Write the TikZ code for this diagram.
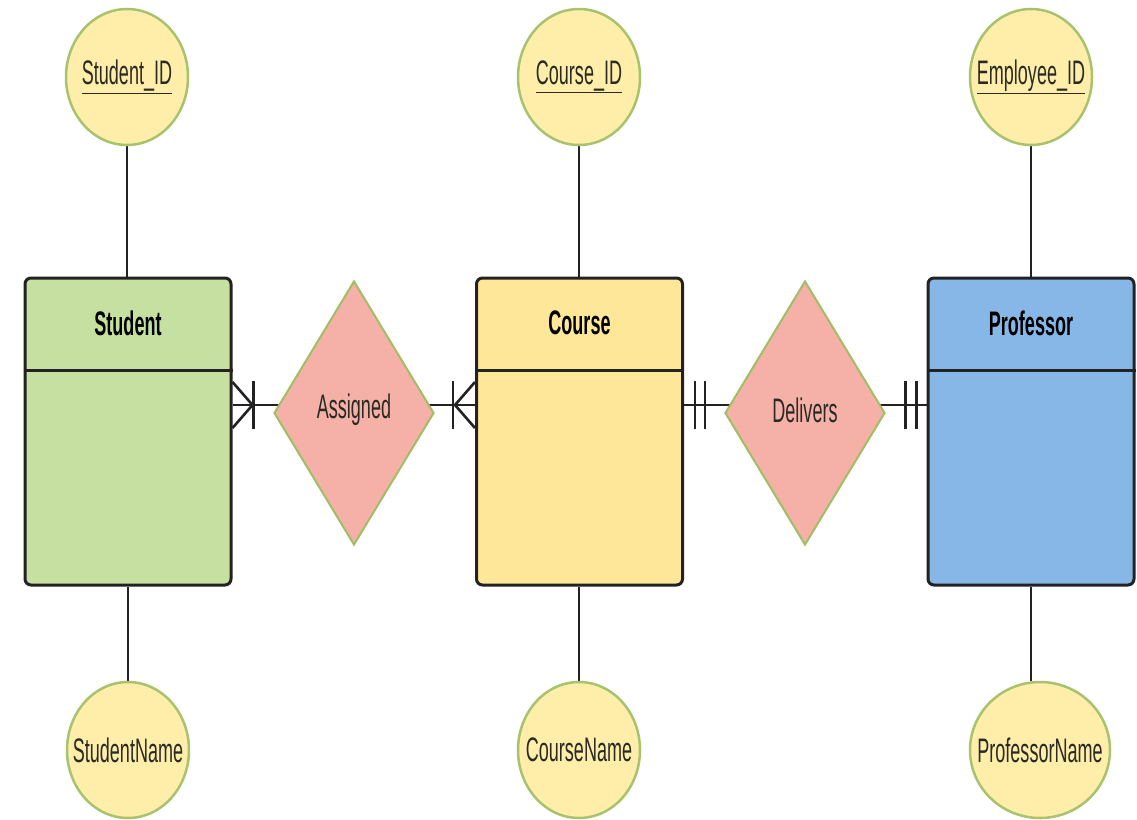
\documentclass[tikz,border=0pt]{standalone}
\usepackage{fontspec}
\setmainfont{Liberation Sans}[FakeStretch=0.53]
\usetikzlibrary{shapes.geometric,calc,backgrounds}

\definecolor{edge}{HTML}{222222}
\definecolor{txt}{HTML}{2A2A22}
\definecolor{stgreen}{HTML}{C5E0A0}
\definecolor{coyellow}{HTML}{FFE799}
\definecolor{prblue}{HTML}{86B7E6}
\definecolor{relfill}{HTML}{F5B0A8}
\definecolor{relborder}{HTML}{A0BE64}
\definecolor{attrfill}{HTML}{FFEEAA}
\definecolor{attrborder}{HTML}{A8C26E}

\tikzset{
  entity/.style={draw=edge, line width=3pt, rounded corners=6pt,
    minimum width=206pt, minimum height=307pt, inner sep=0pt},
  attr/.style={ellipse, draw=attrborder, fill=attrfill, line width=2.5pt,
    minimum width=122pt, minimum height=136pt, inner sep=0pt},
  attrtext/.style={font=\fontsize{34}{40}\selectfont, text=txt, inner sep=0pt},
  rel/.style={diamond, draw=relborder, fill=relfill, line width=2pt,
    minimum width=160pt, minimum height=264pt, inner sep=0pt},
  reltext/.style={font=\fontsize{34}{40}\selectfont, text=txt, inner sep=0pt},
  title/.style={font=\bfseries\fontsize{34}{40}\selectfont, text=black},
  link/.style={draw=edge, line width=2.6pt},
  divider/.style={draw=edge, line width=3pt}
}

\begin{document}
\begin{tikzpicture}[x=1pt,y=-1pt]
\useasboundingbox (0,0) rectangle (1137,819);

% entities
\node[entity, fill=stgreen]  (student)   at (128,431.5)  {};
\node[entity, fill=coyellow] (course)    at (579.5,431.5) {};
\node[entity, fill=prblue]   (professor) at (1031,431.5) {};
\node[title] (studentT)   at (128,323)   {Student};
\node[title] (courseT)    at (579.5,323) {Course};
\node[title] (professorT) at (1031,323)  {Professor};
\draw[divider] (student.west |- 0,370)   -- (student.east |- 0,370);
\draw[divider] (course.west |- 0,370)    -- (course.east |- 0,370);
\draw[divider] (professor.west |- 0,370) -- (professor.east |- 0,370);

% attributes
\node[attr] (sid)   at (127,77)   {};
\node[attr] (cid)   at (579,77)   {};
\node[attr] (eid)   at (1031,77)  {};
\node[attr] (sname) at (128,750)  {};
\node[attr] (cname) at (579,750)  {};
\node[attr, minimum width=140pt] (pname) at (1040,750) {};
\node[attrtext] (sidT)   at (sid)   {\underline{Student\_ID}};
\node[attrtext] (cidT)   at (cid)   {\underline{Course\_ID}};
\node[attrtext] (eidT)   at (eid)   {\underline{Employee\_ID}};
\node[attrtext] (snameT) at (sname) {StudentName};
\node[attrtext] (cnameT) at (cname) {CourseName};
\node[attrtext] (pnameT) at (pname) {ProfessorName};

% relationships
\node[rel] (assigned) at (354,413) {};
\node[rel] (delivers) at (805,413) {};
\node[reltext] (assignedT) at (354,410) {Assigned};
\node[reltext] (deliversT) at (805,410) {Delivers};

% connectors behind the shapes
\begin{scope}[on background layer]
\fill[white] (0,0) rectangle (1137,819);
\draw[link] (sid)   -- (sid |- student.north);
\draw[link] (cid)   -- (cid |- course.north);
\draw[link] (eid)   -- (eid |- professor.north);
\draw[link] (sname) -- (sname |- student.south);
\draw[link] (cname) -- (cname |- course.south);
\draw[link] (professor.south) -- (professor |- pname.north);
\draw[link] (student.east |- 0,405)  -- (assigned.center |- 0,405);
\draw[link] (assigned.center |- 0,405) -- (course.west |- 0,405);
\draw[link] (course.east |- 0,405)   -- (delivers.center |- 0,405);
\draw[link] (delivers.center |- 0,405) -- (professor.west |- 0,405);
\end{scope}

% one-or-many at Student
\draw[link] ($(student.east |- 0,405)+(21,-24)$) -- ++(0,48);
\draw[link] (student.east |- 0,382) -- ($(student.east |- 0,405)+(20,0)$) -- (student.east |- 0,428);
% one-or-many at Course
\draw[link] ($(course.west |- 0,405)+(-22,-24)$) -- ++(0,48);
\draw[link] (course.west |- 0,382) -- ($(course.west |- 0,405)+(-20,0)$) -- (course.west |- 0,428);
% one-and-only-one at Course and Professor
\draw[link] ($(course.east |- 0,405)+(11,-24)$) -- ++(0,48);
\draw[link] ($(course.east |- 0,405)+(21,-24)$) -- ++(0,48);
\draw[link] ($(professor.west |- 0,405)+(-21,-24)$) -- ++(0,48);
\draw[link] ($(professor.west |- 0,405)+(-10,-24)$) -- ++(0,48);
\end{tikzpicture}
\end{document}
